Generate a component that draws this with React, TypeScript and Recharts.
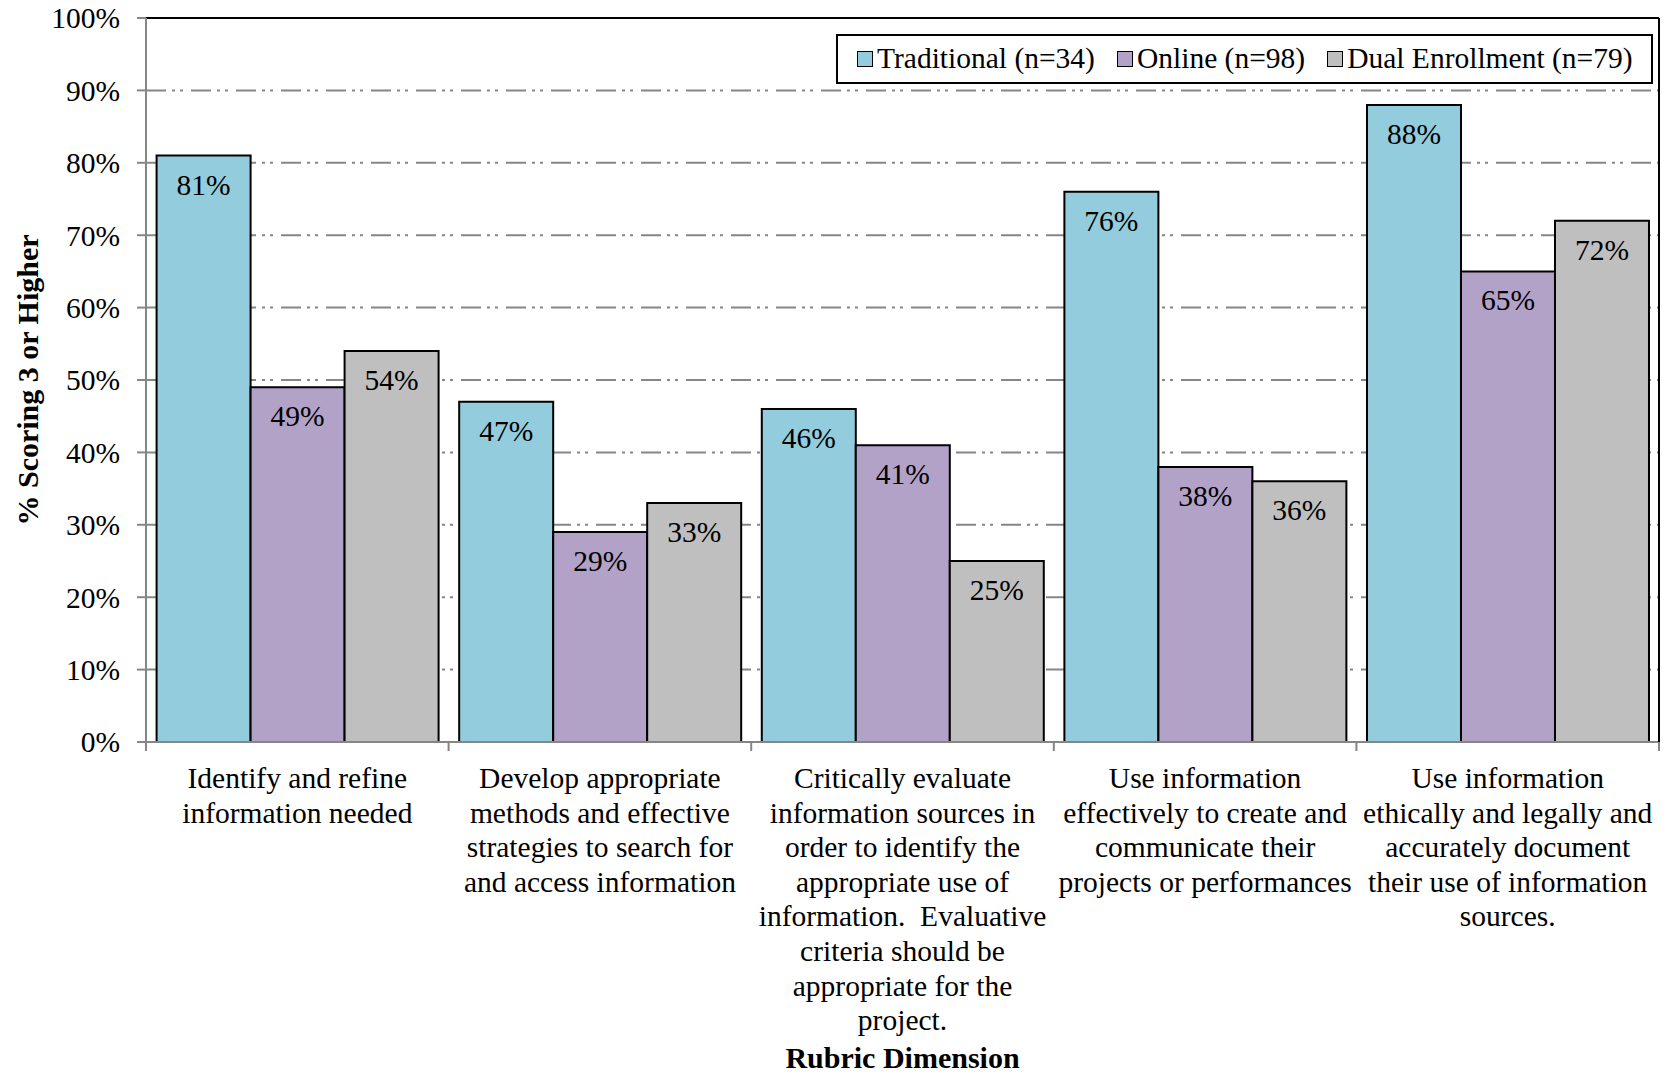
import React from 'react';
import { BarChart, Bar, XAxis, YAxis, CartesianGrid, Legend, LabelList } from 'recharts';

// Rubric dimensions, one array of wrapped lines per category
const categories: string[][] = [
  ['Identify and refine', 'information needed'],
  ['Develop appropriate', 'methods and effective', 'strategies to search for', 'and access information'],
  [
    'Critically evaluate',
    'information sources in',
    'order to identify the',
    'appropriate use of',
    'information.  Evaluative',
    'criteria should be',
    'appropriate for the',
    'project.',
  ],
  ['Use information', 'effectively to create and', 'communicate their', 'projects or performances'],
  ['Use information', 'ethically and legally and', 'accurately document', 'their use of information', 'sources.'],
];

const traditional = [81, 47, 46, 76, 88];
const online = [49, 29, 41, 38, 65];
const dualEnrollment = [54, 33, 25, 36, 72];

const yTicks = [0, 10, 20, 30, 40, 50, 60, 70, 80, 90, 100];

const series = [
  { key: 'traditional', name: 'Traditional (n=34)', color: '#93CDDD' },
  { key: 'online', name: 'Online (n=98)', color: '#B3A2C7' },
  { key: 'dualEnrollment', name: 'Dual Enrollment (n=79)', color: '#BFBFBF' },
];

const data = categories.map((lines, i) => ({
  name: lines.join(' '),
  traditional: traditional[i],
  online: online[i],
  dualEnrollment: dualEnrollment[i],
}));

const FONT = '"Liberation Serif", "Times New Roman", serif';
const FS = 29.5;
const AXIS_GREY = '#868686';

const CategoryTick = (props: any) => {
  const { x, y, index, width } = props;
  const band = width / categories.length;
  const lines = categories[index] || [];
  const left = x - band / 2;
  return (
    <g>
      <line x1={left} x2={left} y1={y} y2={y + 9} stroke={AXIS_GREY} strokeWidth={2} />
      {index === categories.length - 1 && (
        <line x1={x + band / 2} x2={x + band / 2} y1={y} y2={y + 9} stroke={AXIS_GREY} strokeWidth={2} />
      )}
      <text x={x} y={y + 46} textAnchor="middle" fill="#000" fontSize={FS} style={{ whiteSpace: 'pre' }}>
        {lines.map((line, i) => (
          <tspan key={i} x={x} dy={i === 0 ? 0 : 34.6}>
            {line}
          </tspan>
        ))}
      </text>
    </g>
  );
};

const YTitle = (props: any) => {
  const { viewBox } = props;
  const cx = viewBox.x + 27;
  const cy = viewBox.y + viewBox.height / 2;
  return (
    <text
      x={cx}
      y={cy}
      transform={`rotate(-90, ${cx}, ${cy})`}
      textAnchor="middle"
      dominantBaseline="central"
      fontSize={30}
      fontWeight="bold"
      fill="#000"
    >
      % Scoring 3 or Higher
    </text>
  );
};

const XTitle = (props: any) => {
  const { viewBox } = props;
  return (
    <text
      x={viewBox.x + viewBox.width / 2}
      y={viewBox.y + 326}
      textAnchor="middle"
      fontSize={30}
      fontWeight="bold"
      fill="#000"
    >
      Rubric Dimension
    </text>
  );
};

const LegendBox = () => (
  <div
    style={{
      boxSizing: 'border-box',
      width: 817,
      height: 50,
      border: '2px solid #000',
      background: '#fff',
      display: 'flex',
      alignItems: 'center',
      paddingLeft: 19,
      fontFamily: FONT,
      fontSize: FS,
      lineHeight: 1,
      color: '#000',
      whiteSpace: 'nowrap',
    }}
  >
    {series.map((s, i) => (
      <div key={s.key} style={{ display: 'flex', alignItems: 'center', marginLeft: i === 0 ? 0 : 22 }}>
        <span
          style={{
            boxSizing: 'border-box',
            display: 'inline-block',
            width: 16,
            height: 16,
            border: '1.5px solid #000',
            background: s.color,
            marginRight: 4,
          }}
        />
        <span>{s.name}</span>
      </div>
    ))}
  </div>
);

const App: React.FC = () => {
  return (
    <div style={{ position: 'absolute', left: 0, top: 0, fontFamily: FONT, background: '#fff' }}>
      <BarChart
        width={1677}
        height={1074}
        data={data}
        margin={{ top: 17, right: 17, bottom: 0, left: 0 }}
        barCategoryGap="3.5%"
        barGap={0}
      >
        <CartesianGrid vertical={false} stroke={AXIS_GREY} strokeWidth={2} strokeDasharray="20 6 3 5 3 8" />
        <XAxis
          dataKey="name"
          height={332}
          interval={0}
          tickSize={0}
          tickMargin={0}
          tickLine={false}
          axisLine={{ stroke: AXIS_GREY, strokeWidth: 2 }}
          tick={<CategoryTick />}
          label={<XTitle />}
        />
        {/* black frame along the top and right of the plot */}
        <XAxis
          xAxisId="top"
          orientation="top"
          height={1}
          tick={false}
          tickLine={false}
          axisLine={{ stroke: '#000', strokeWidth: 2 }}
        />
        <YAxis
          domain={[0, 100]}
          ticks={yTicks}
          interval={0}
          width={146}
          tickSize={9}
          tickMargin={17}
          tickFormatter={(v: number) => `${v}%`}
          axisLine={{ stroke: AXIS_GREY, strokeWidth: 2 }}
          tickLine={{ stroke: AXIS_GREY, strokeWidth: 2 }}
          tick={{ fill: '#000', fontSize: FS }}
          label={<YTitle />}
        />
        <YAxis
          yAxisId="right"
          orientation="right"
          width={1}
          domain={[0, 100]}
          tick={false}
          tickLine={false}
          axisLine={{ stroke: '#000', strokeWidth: 2 }}
        />
        <Legend
          layout="horizontal"
          verticalAlign="middle"
          align="center"
          wrapperStyle={{ left: 836, top: 34, width: 817, height: 50 }}
          content={() => <LegendBox />}
        />
        {series.map((s) => (
          <Bar
            key={s.key}
            dataKey={s.key}
            name={s.name}
            fill={s.color}
            stroke="#000"
            strokeWidth={2}
            isAnimationActive={false}
          >
            <LabelList
              dataKey={s.key}
              position="insideTop"
              offset={18}
              formatter={(v: any) => `${v}%`}
              fill="#000"
              stroke="none"
              fontSize={FS}
            />
          </Bar>
        ))}
      </BarChart>
    </div>
  );
};

export default App;
